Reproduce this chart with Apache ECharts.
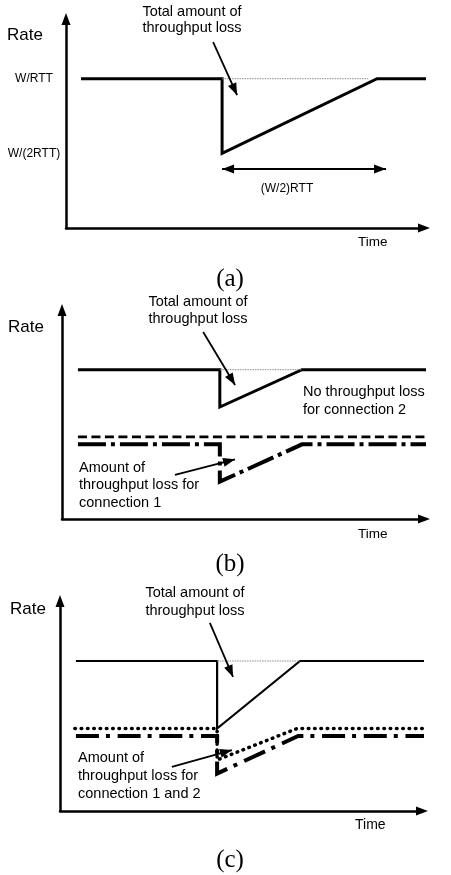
<!DOCTYPE html>
<html>
<head>
<meta charset="utf-8">
<script src="https://cdn.jsdelivr.net/npm/echarts@6/dist/echarts.min.js"></script>
<style>
  html, body { margin: 0; padding: 0; background: #fff; }
  #chart { width: 451px; height: 875px; }
</style>
</head>
<body>
<div id="chart"></div>
<script>
// Rate ticks shown on the first panel
const rateTickValues = [1, 2];
const rateTickLabels = ['W/(2RTT)', 'W/RTT'];

// (a) one connection: rate halves, then grows back linearly
const aRate = [[4.2, 2], [43.6, 2], [43.6, 1], [86.9, 2], [107.5, 2]];
const aIdeal = [[43.6, 2], [84.4, 2]];
const aPointer = [[41.1, 2.49], [47.8, 1.78]];
const aSpan = [[43.6, 0.79], [89.4, 0.79]];

// (b) two connections, only connection 1 loses a packet
const bTotal = [[4.4, 2], [43.6, 2], [43.6, 1.5], [66.3, 2], [107.5, 2]];
const bIdeal = [[43.6, 2], [66.3, 2]];
const bConn2 = [[4.4, 1.1], [104.4, 1.1]];
const bConn1 = [[4.4, 1], [43.6, 1], [43.6, 0.5], [66.3, 1], [107.5, 1]];
const bPointerTotal = [[39.0, 2.505], [47.8, 1.795]];
const bPointerConn1 = [[31.2, 0.59], [47.8, 0.80]];

// (c) two connections, both lose a packet at the same time
const cTotal = [[4.4, 2], [43.4, 2], [43.4, 1.1], [66.3, 2], [108, 2]];
const cIdeal = [[43.4, 2], [66.3, 2]];
const cConn2 = [[4.1, 1.1], [43.4, 1.1], [43.4, 0.68], [65.5, 1.1], [106.9, 1.1]];
const cConn1 = [[4.4, 1], [43.4, 1], [43.4, 0.5], [65.8, 1], [108, 1]];
const cPointerTotal = [[41.4, 2.507], [47.8, 1.787]];
const cPointerConns = [[30.9, 0.587], [47.5, 0.813]];

const SANS = '"Liberation Sans", Arial, sans-serif';
const SERIF = '"Liberation Serif", "Times New Roman", serif';

const grids = [
  { left: 66, top: 19, width: 358, height: 209 },
  { left: 62, top: 310, width: 362, height: 209 },
  { left: 60, top: 601, width: 362, height: 210 }
];

function axisLineStyle() {
  return {
    show: true,
    symbol: ['none', 'triangle'],
    symbolSize: [9, 12],
    lineStyle: { color: '#000', width: 2.5 }
  };
}

const xAxes = grids.map((g, i) => ({
  type: 'value', gridIndex: i, min: 0, max: 100,
  axisLine: axisLineStyle(),
  axisTick: { show: false }, axisLabel: { show: false }, splitLine: { show: false }
}));

const yAxes = grids.map((g, i) => ({
  type: 'value', gridIndex: i, min: 0, max: 2.8,
  axisLine: axisLineStyle(),
  axisTick: { show: false },
  splitLine: { show: false },
  axisLabel: i === 0 ? {
    show: true,
    customValues: rateTickValues,
    formatter: v => rateTickLabels[rateTickValues.indexOf(v)],
    margin: 32, align: 'center',
    fontFamily: SANS, fontSize: 12, color: '#000'
  } : { show: false }
}));

function line(i, data, width, type, extra) {
  return Object.assign({
    type: 'line', xAxisIndex: i, yAxisIndex: i, data: data,
    symbol: 'none', clip: false, silent: true,
    lineStyle: { color: '#000', width: width, type: type || 'solid', cap: 'butt', join: 'miter' }
  }, extra || {});
}

// Arrow annotations; each end carries its own head so width/length stay separate
function head(pt, show) {
  return show
    ? { coord: pt, symbol: 'triangle', symbolSize: [9, 12], symbolOffset: [0, 6] }
    : { coord: pt, symbol: 'none' };
}
function pointers(list, doubleHead) {
  return {
    silent: true,
    label: { show: false },
    emphasis: { disabled: true },
    lineStyle: { color: '#000', width: doubleHead ? 2.2 : 1.8, type: 'solid' },
    data: list.map(p => [head(p[0], doubleHead), head(p[1], true)])
  };
}

const thinIdeal = { color: '#8a8a8a', width: 1, type: [1.5, 1], cap: 'butt' };

const series = [
  // (a)
  line(0, aRate, 3),
  line(0, aIdeal, 1, null, { lineStyle: thinIdeal, markLine: pointers([aPointer]) }),
  line(0, [], 1, null, { markLine: pointers([aSpan], true) }),
  // (b)
  line(1, bTotal, 3),
  line(1, bIdeal, 1, null, { lineStyle: thinIdeal, markLine: pointers([bPointerTotal, bPointerConn1]) }),
  line(1, bConn2, 2.6, [9, 4.5]),
  line(1, bConn1, 4, [28, 5, 4, 5]),
  // (c)
  line(2, cTotal, 2.2),
  line(2, cIdeal, 1, null, { lineStyle: thinIdeal, markLine: pointers([cPointerTotal, cPointerConns]) }),
  line(2, cConn2, 3.4, null, { lineStyle: { color: '#000', width: 3.5, type: [0.6, 5.7], cap: 'round', join: 'round' } }),
  line(2, cConn1, 4, [23, 7, 4, 7.7])
];

function txt(text, x, y, size, align, lh, family) {
  return {
    type: 'text', silent: true,
    style: {
      text: text, x: x, y: y,
      fill: '#000',
      font: size + 'px ' + (family || SANS),
      align: align || 'left', textAlign: align || 'left',
      verticalAlign: 'middle', textVerticalAlign: 'middle',
      lineHeight: lh || Math.round(size * 1.2)
    }
  };
}

const graphic = [
  // (a)
  txt('Rate', 7, 35, 17),
  txt('Total amount of\nthroughput loss', 192, 20, 14.5, 'center', 16.5),
  txt('(W/2)RTT', 287, 189, 12, 'center'),
  txt('Time', 358, 242, 13.5),
  txt('(a)', 230, 279, 25, 'center', 28, SERIF),
  // (b)
  txt('Rate', 8, 327, 17),
  txt('Total amount of\nthroughput loss', 198, 310, 14.5, 'center', 17),
  txt('No throughput loss\nfor connection 2', 303, 401, 14.5, 'left', 17.7),
  txt('Amount of\nthroughput loss for\nconnection 1', 79, 485, 14.5, 'left', 17.5),
  txt('Time', 358, 534, 13.5),
  txt('(b)', 230, 564, 25, 'center', 28, SERIF),
  // (c)
  txt('Rate', 10, 609, 17),
  txt('Total amount of\nthroughput loss', 195, 602, 14.5, 'center', 18),
  txt('Amount of\nthroughput loss for\nconnection 1 and 2', 78, 776, 14.5, 'left', 17.8),
  txt('Time', 355, 825, 14),
  txt('(c)', 230, 860, 25, 'center', 28, SERIF)
];

const chart = echarts.init(document.getElementById('chart'), null, { renderer: 'canvas' });
chart.setOption({
  animation: false,
  backgroundColor: '#fff',
  grid: grids,
  xAxis: xAxes,
  yAxis: yAxes,
  series: series,
  graphic: graphic
});
</script>
</body>
</html>
